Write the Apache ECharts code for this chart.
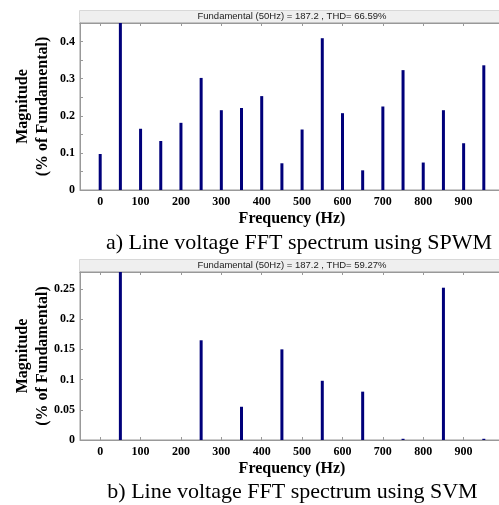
<!DOCTYPE html>
<html>
<head>
<meta charset="utf-8">
<script src="https://cdn.jsdelivr.net/npm/echarts@6/dist/echarts.min.js"></script>
<style>html,body{margin:0;padding:0;background:#fff}#c{width:499px;height:505px}</style>
</head>
<body>
<div id="c"></div>
<script>
// Harmonic frequencies (Hz)
const freqs = [0, 50, 100, 150, 200, 250, 300, 350, 400, 450, 500, 550, 600, 650, 700, 750, 800, 850, 900, 950];
// a) SPWM magnitudes (50 Hz fundamental is off-scale)
const spwm = [0.097, 100, 0.165, 0.132, 0.181, 0.302, 0.215, 0.221, 0.253, 0.072, 0.163, 0.409, 0.207, 0.053, 0.225, 0.323, 0.074, 0.215, 0.126, 0.336];
// b) SVM magnitudes
const svm = [0, 100, 0, 0, 0, 0.165, 0, 0.055, 0, 0.150, 0, 0.098, 0, 0.080, 0, 0.002, 0, 0.252, 0, 0.002];
const xTickLabels = [0, 100, 200, 300, 400, 500, 600, 700, 800, 900];
const xTicks = [0, 100, 200, 300, 400, 500, 600, 700, 800, 900, 1000];
const yTicksA = [0, 0.1, 0.2, 0.3, 0.4];
const yMinorA = [0, 0.05, 0.1, 0.15, 0.2, 0.25, 0.3, 0.35, 0.4, 0.45];
const yTicksB = [0, 0.05, 0.1, 0.15, 0.2, 0.25];
const titleA = 'Fundamental (50Hz) = 187.2 , THD= 66.59%';
const titleB = 'Fundamental (50Hz) = 187.2 , THD= 59.27%';
const captionA = 'a) Line voltage FFT spectrum using SPWM';
const captionB = 'b) Line voltage FFT spectrum using SVM';
const yName = 'Magnitude\n(% of Fundamental)';
const xName = 'Frequency (Hz)';

const AX = '#999';
const serifBold = {fontFamily: 'Liberation Serif', fontWeight: 'bold', color: '#000'};

function bottomX(gi) {
  return {
    type: 'value', gridIndex: gi, min: -50, max: 1000, position: 'bottom',
    axisLine: {show: true, onZero: false, lineStyle: {color: AX}},
    axisTick: {show: true, inside: true, length: 3, customValues: xTicks, lineStyle: {color: AX}},
    axisLabel: Object.assign({fontSize: 12, margin: 6, customValues: xTickLabels}, serifBold),
    splitLine: {show: false},
    name: xName, nameLocation: 'middle', nameGap: 21, nameMoveOverlap: false,
    nameTextStyle: Object.assign({fontSize: 16}, serifBold)
  };
}
function topX(gi) {
  return {
    type: 'value', gridIndex: gi, min: -50, max: 1000, position: 'top',
    axisLine: {show: true, onZero: false, lineStyle: {color: AX}},
    axisTick: {show: true, inside: true, length: 3, customValues: xTicks, lineStyle: {color: AX}},
    axisLabel: {show: false}, splitLine: {show: false}
  };
}
function leftY(gi, max, labels, ticks) {
  return {
    type: 'value', gridIndex: gi, min: 0, max: max, position: 'left',
    axisLine: {show: true, onZero: false, lineStyle: {color: AX}},
    axisTick: {show: true, inside: true, length: 3, customValues: ticks, lineStyle: {color: AX}},
    axisLabel: Object.assign({fontSize: 12, margin: 5, customValues: labels}, serifBold),
    splitLine: {show: false},
    name: yName, nameLocation: 'middle', nameGap: 27, nameRotate: 90, nameMoveOverlap: false,
    nameTextStyle: Object.assign({fontSize: 16, lineHeight: 20, align: 'center'}, serifBold)
  };
}

const gridBase = {left: 80, right: -5, show: true, borderColor: AX, borderWidth: 1,
  backgroundColor: 'transparent', containLabel: false, outerBoundsMode: 'none'};

const chart = echarts.init(document.getElementById('c'), null, {renderer: 'canvas'});
chart.setOption({
  animation: false,
  backgroundColor: '#fff',
  grid: [
    Object.assign({top: 23, height: 167}, gridBase),
    Object.assign({top: 272, height: 168}, gridBase)
  ],
  xAxis: [bottomX(0), topX(0), bottomX(1), topX(1)],
  yAxis: [leftY(0, 0.45, yTicksA, yMinorA), leftY(1, 0.278, yTicksB, yTicksB)],
  graphic: [
    {type: 'rect', left: 79, top: 10, shape: {width: 430, height: 13}, style: {fill: '#efefef', stroke: '#d8d8d8', lineWidth: 1}, z: -1},
    {type: 'text', x: 292, y: 16.5, style: {text: titleA, font: '9.5px "Liberation Sans"', fill: '#222', align: 'center', verticalAlign: 'middle'}},
    {type: 'rect', left: 79, top: 259, shape: {width: 430, height: 13}, style: {fill: '#efefef', stroke: '#d8d8d8', lineWidth: 1}, z: -1},
    {type: 'text', x: 292, y: 265.5, style: {text: titleB, font: '9.5px "Liberation Sans"', fill: '#222', align: 'center', verticalAlign: 'middle'}},
    {type: 'text', x: 299, y: 243, style: {text: captionA, font: '22px "Liberation Serif"', fill: '#000', align: 'center', verticalAlign: 'middle'}},
    {type: 'text', x: 292.5, y: 492, style: {text: captionB, font: '22px "Liberation Serif"', fill: '#000', align: 'center', verticalAlign: 'middle'}}
  ],
  series: [
    {type: 'bar', xAxisIndex: 0, yAxisIndex: 0, barWidth: 3, clip: true,
     itemStyle: {color: '#00007a'}, data: freqs.map((f, i) => [f, spwm[i]])},
    {type: 'bar', xAxisIndex: 2, yAxisIndex: 1, barWidth: 3, clip: true,
     itemStyle: {color: '#00007a'}, data: freqs.map((f, i) => [f, svm[i]])}
  ]
});
</script>
</body>
</html>
